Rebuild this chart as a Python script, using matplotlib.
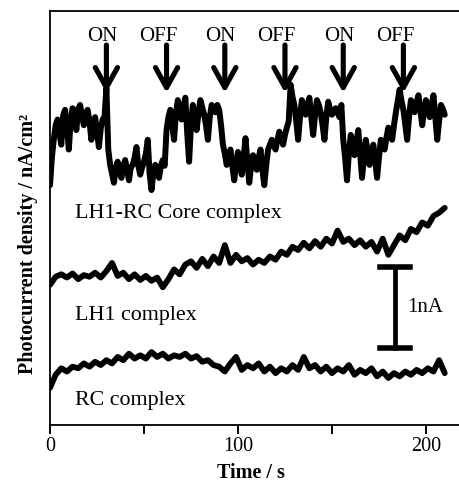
import numpy as np
import matplotlib
matplotlib.use("Agg")
import matplotlib.pyplot as plt

plt.rcParams['font.family'] = ['Liberation Serif', 'DejaVu Serif']

# photocurrent traces, nA (core sampled every 1 s, the others every 3 s)
core = [2.96, 3.30, 3.52, 3.70, 3.77, 3.60, 3.46, 3.82, 3.89, 3.70,
        3.40, 3.75, 3.91, 3.85, 3.64, 3.90, 3.95, 3.82, 3.70, 3.84,
        3.89, 3.75, 3.52, 3.70, 3.80, 3.62, 3.43, 3.66, 3.77, 3.80,
        4.16,
        3.40, 3.21, 3.10, 2.99, 3.18, 3.25, 3.12, 3.05, 3.20, 3.27,
        3.15, 3.02, 3.18, 3.21, 3.30, 3.43, 3.20, 3.09, 3.18, 3.25,
        3.35, 3.52, 3.10, 2.90, 3.12, 3.21, 3.15, 3.05, 3.20, 3.27,
        3.20,
        3.64, 3.80, 3.89, 3.70, 3.52, 3.85, 4.01, 3.90, 3.77, 3.92,
        4.04, 3.60, 3.25, 3.70, 3.95, 3.80, 3.64, 3.85, 4.01, 3.92,
        3.83, 3.70, 3.52, 3.80, 3.95, 3.90, 3.86, 3.95, 3.89, 3.70,
        3.46, 3.35, 3.21, 3.30, 3.40, 3.20, 3.02, 3.22, 3.37, 3.25,
        3.09, 3.30, 3.54, 3.25, 2.99, 3.20, 3.33, 3.25, 3.15, 3.30,
        3.40, 3.15, 2.96, 3.20, 3.40, 3.46, 3.52, 3.45, 3.40, 3.52,
        3.62, 3.55, 3.46, 3.58, 3.67, 3.75,
        4.20, 4.05, 3.95, 3.75, 3.52, 3.80, 4.01, 3.92, 3.83, 3.95,
        4.04, 3.80, 3.58, 3.82, 4.01, 3.95, 3.86, 3.70, 3.52, 3.80,
        3.99, 3.90, 3.83, 3.88, 3.91, 3.85, 3.80, 3.95, 3.52,
        3.30, 3.02, 3.35, 3.58, 3.45, 3.33, 3.50, 3.64, 3.35, 3.05,
        3.30, 3.52, 3.38, 3.21, 3.35, 3.46, 3.25, 3.05, 3.30, 3.52,
        3.45, 3.40, 3.55, 3.67, 3.60, 3.52, 3.70, 3.86,
        4.00, 4.14, 4.00, 3.89, 3.70, 3.52, 3.80, 4.01, 3.95, 3.86,
        3.98, 4.07, 3.90, 3.70, 3.88, 4.01, 3.90, 3.80, 3.95, 4.07,
        3.80, 3.52, 3.75, 3.95, 3.90, 3.83]

lh1 = [1.73, 1.83, 1.86, 1.82, 1.87, 1.80, 1.85, 1.83, 1.88, 1.82,
       1.90, 2.00, 1.84, 1.88, 1.80, 1.86, 1.79, 1.84, 1.78, 1.82,
       1.70, 1.80, 1.92, 1.86, 1.98, 2.02, 1.94, 2.05, 1.96, 2.08,
       2.00, 2.22, 2.00, 2.10, 2.02, 2.06, 1.98, 2.04, 2.00, 2.08,
       2.04, 2.14, 2.10, 2.20, 2.16, 2.25, 2.18, 2.27, 2.20, 2.30,
       2.24, 2.40, 2.26, 2.30, 2.22, 2.28, 2.20, 2.26, 2.14, 2.30,
       2.10, 2.22, 2.34, 2.28, 2.42, 2.38, 2.50, 2.46, 2.58, 2.62,
       2.68]

rc = [0.46, 0.62, 0.70, 0.66, 0.72, 0.70, 0.76, 0.72, 0.78, 0.74,
      0.80, 0.76, 0.84, 0.80, 0.88, 0.82, 0.86, 0.82, 0.90, 0.84,
      0.88, 0.82, 0.86, 0.84, 0.88, 0.82, 0.85, 0.78, 0.80, 0.74,
      0.72, 0.66, 0.76, 0.84, 0.68, 0.74, 0.70, 0.76, 0.66, 0.72,
      0.64, 0.70, 0.66, 0.74, 0.68, 0.84, 0.70, 0.74, 0.66, 0.72,
      0.64, 0.70, 0.66, 0.74, 0.62, 0.68, 0.64, 0.70, 0.60, 0.66,
      0.58, 0.64, 0.60, 0.66, 0.62, 0.68, 0.64, 0.70, 0.66, 0.80,
      0.64]

t_end = 210
switch_times = [30, 62, 93, 125, 156, 188]
switch_labels = ['ON', 'OFF', 'ON', 'OFF', 'ON', 'OFF']

fig = plt.figure(figsize=(4.6, 4.88), dpi=100)
ax = fig.add_axes([0.1087, 0.1291, 0.899, 0.8484])

for trace, width in ((core, 4.3), (lh1, 4.2), (rc, 4.2)):
    t = np.linspace(0, t_end, len(trace))
    ax.plot(t, trace, color='black', lw=width,
            solid_joinstyle='round', solid_capstyle='round')

# light on/off markers
for ts, lab in zip(switch_times, switch_labels):
    ax.annotate('', xy=(ts, 4.10), xytext=(ts, 4.69),
                arrowprops=dict(arrowstyle='->, head_length=0.72, head_width=0.4',
                                lw=3.7, color='black', shrinkA=0, shrinkB=0,
                                mutation_scale=20))
    ax.text(ts + 5.8, 4.74, lab, ha='right', va='baseline', fontsize=15)

ax.text(13.3, 2.56, 'LH1-RC Core complex', fontsize=15.8, va='baseline')
ax.text(13.3, 1.30, 'LH1 complex', fontsize=15.8, va='baseline')
ax.text(13.3, 0.25, 'RC complex', fontsize=15.8, va='baseline')

# 1 nA scale bar
bar_x, bar_lo = 183.5, 0.95
ax.plot([bar_x, bar_x], [bar_lo, bar_lo + 1], color='black', lw=3.4)
ax.plot([bar_x - 8, bar_x + 8], [bar_lo, bar_lo], color='black', lw=4.0)
ax.plot([bar_x - 8, bar_x + 8], [bar_lo + 1, bar_lo + 1], color='black', lw=4.0)
ax.text(bar_x + 16, bar_lo + 0.5, '1nA', ha='center', va='center', fontsize=15)

ax.set_xlim(0, 220)
ax.set_ylim(0, 5.11)
ax.set_xticks([0, 100, 200])
ax.set_xticks([50, 150], minor=True)
ax.tick_params(axis='x', which='both', direction='out', length=6.5, width=1.4,
               labelsize=14.5, pad=2.5)
ax.set_yticks([])
ax.spines['right'].set_visible(False)
for s in ('left', 'bottom', 'top'):
    ax.spines[s].set_linewidth(1.3)

ax.set_xlabel('Time / s', fontsize=14.5, fontweight='bold')
ax.xaxis.set_label_coords(0.487, -0.092)
ax.set_ylabel('Photocurrent density / nA/cm²', fontsize=14.5, fontweight='bold')
ax.yaxis.set_label_coords(-0.028, 0.437)

fig.savefig('out.png', dpi=100)
